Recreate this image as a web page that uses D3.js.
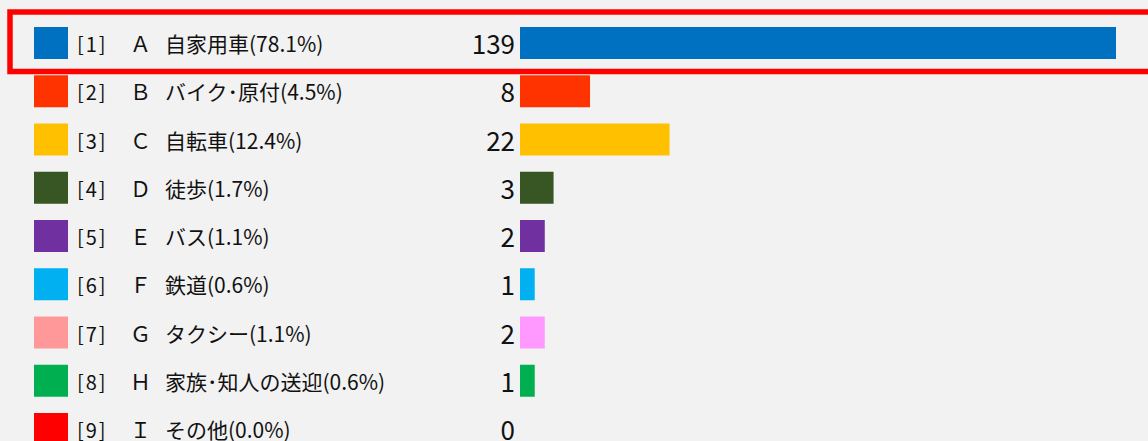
<!DOCTYPE html>
<html>
<head>
<meta charset="utf-8">
<script src="https://cdn.jsdelivr.net/npm/d3@7"></script>
<style>
    html, body { margin: 0; padding: 0; background: #f2f2f2; }
    svg { display: block; }
</style>
</head>
<body>
<svg id="chart" width="1148" height="441"></svg>
<script>
// Commute mode bar chart
const indexLabels = ['[1]', '[2]', '[3]', '[4]', '[5]', '[6]', '[7]', '[8]', '[9]'];
const letters = ['Ａ', 'Ｂ', 'Ｃ', 'Ｄ', 'Ｅ', 'Ｆ', 'Ｇ', 'Ｈ', 'Ｉ'];
const categories = ['自家用車', 'バイク･原付', '自転車', '徒歩', 'バス', '鉄道', 'タクシー', '家族･知人の送迎', 'その他'];
const percents = ['78.1%', '4.5%', '12.4%', '1.7%', '1.1%', '0.6%', '1.1%', '0.6%', '0.0%'];
const counts = [139, 8, 22, 3, 2, 1, 2, 1, 0];
const swatchColors = ['#0070c0', '#ff3300', '#ffc000', '#375623', '#7030a0', '#00b0f0', '#ff9999', '#00b050', '#ff0000'];
const barColors = ['#0070c0', '#ff3300', '#ffc000', '#375623', '#7030a0', '#00b0f0', '#ff99ff', '#00b050', '#ff0000'];
const highlighted = 0;

(function() {
    'use strict';

    const svg = d3.select('#chart');
    const font = '"Noto Sans CJK JP", "Noto Sans", sans-serif';

    const rows = d3.range(categories.length);
    const rowHeight = 48.25;
    const barHeight = 32;
    const barLeft = 520;

    // Row centres
    const y = d3.scaleLinear()
        .domain([0, 1])
        .range([43, 43 + rowHeight]);

    // Bars are not linear in the original, a pow scale gets close
    const x = d3.scalePow()
        .exponent(0.75)
        .domain([0, d3.max(counts)])
        .range([0, 596]);

    svg.append('rect')
        .attr('width', 1148)
        .attr('height', 441)
        .attr('fill', '#f2f2f2');

    const row = svg.selectAll('g.row')
        .data(rows)
        .join('g')
        .attr('class', 'row')
        .attr('transform', i => `translate(0,${y(i)})`);

    // Colour swatch
    row.append('rect')
        .attr('x', 34)
        .attr('y', -barHeight / 2)
        .attr('width', 34)
        .attr('height', barHeight)
        .attr('fill', i => swatchColors[i]);

    row.append('text')
        .attr('x', 77)
        .attr('y', 9)
        .style('font-family', font)
        .style('font-size', '20px')
        .style('letter-spacing', '2px')
        .attr('fill', '#111')
        .text(i => indexLabels[i]);

    row.append('text')
        .attr('x', 130)
        .attr('y', 9)
        .style('font-family', font)
        .style('font-size', '21px')
        .attr('fill', '#111')
        .text(i => letters[i]);

    row.append('text')
        .attr('x', 165)
        .attr('y', 9)
        .style('font-family', font)
        .style('font-size', '21px')
        .attr('fill', '#111')
        .text(i => `${categories[i]}(${percents[i]})`);

    // Count label, right aligned against the bar
    row.append('text')
        .attr('x', barLeft - 5)
        .attr('y', 11)
        .attr('text-anchor', 'end')
        .style('font-family', font)
        .style('font-size', '26px')
        .attr('fill', '#111')
        .text(i => counts[i]);

    row.filter(i => counts[i] > 0)
        .append('rect')
        .attr('x', barLeft)
        .attr('y', -barHeight / 2)
        .attr('width', i => x(counts[i]))
        .attr('height', barHeight)
        .attr('fill', i => barColors[i]);

    // Red selection box around the highlighted row
    svg.append('rect')
        .attr('x', 10)
        .attr('y', y(highlighted) - 31)
        .attr('width', 1150)
        .attr('height', 59.5)
        .attr('fill', 'none')
        .attr('stroke', '#ff0000')
        .attr('stroke-width', 5.5);
})();
</script>
</body>
</html>
